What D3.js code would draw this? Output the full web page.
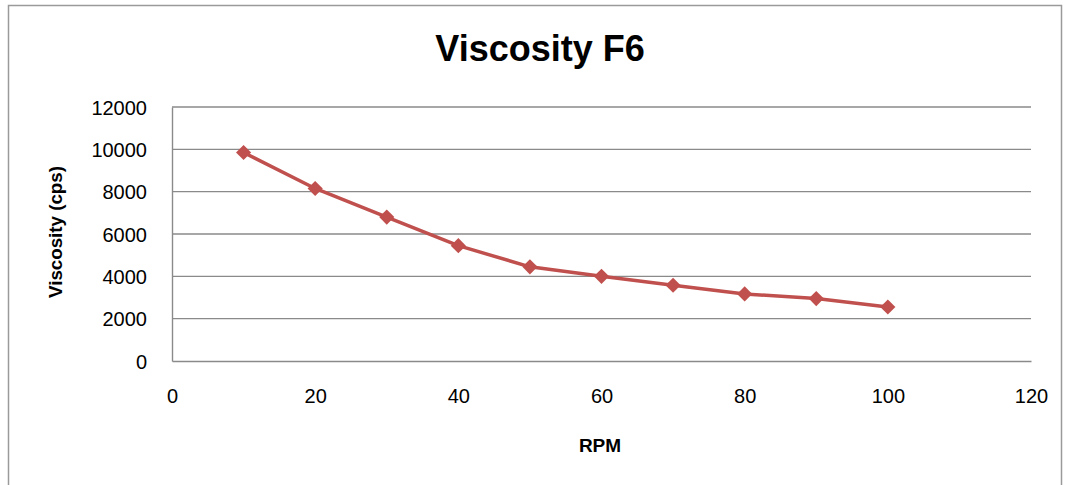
<!DOCTYPE html>
<html>
<head>
<meta charset="utf-8">
<script src="https://cdn.jsdelivr.net/npm/d3@7"></script>
<style>
  html, body { margin: 0; padding: 0; background: #fff; }
  svg { display: block; }
  text { font-family: "Liberation Sans", Arial, sans-serif; fill: #000; }
</style>
</head>
<body>
<svg id="chart" width="1068" height="485"></svg>
<script>
const title = "Viscosity F6";
const xLabel = "RPM";
const yLabel = "Viscosity (cps)";
const rpm = [10, 20, 30, 40, 50, 60, 70, 80, 90, 100];
const viscosity = [9850, 8150, 6800, 5450, 4450, 4000, 3580, 3170, 2950, 2550];
const xTicks = [0, 20, 40, 60, 80, 100, 120];
const yTicks = [0, 2000, 4000, 6000, 8000, 10000, 12000];

const svg = d3.select("#chart");
const plot = { left: 172, right: 1031, top: 107, bottom: 361 };

const x = d3.scaleLinear().domain([0, 120]).range([plot.left, plot.right]);
const y = d3.scaleLinear().domain([0, 12000]).range([plot.bottom, plot.top]);

// outer frame
svg.append("rect")
  .attr("x", 8.5).attr("y", 5.5).attr("width", 1053).attr("height", 500)
  .attr("fill", "none").attr("stroke", "#9a9a9a").attr("stroke-width", 1.5);

// title
svg.append("text")
  .attr("x", 540).attr("y", 61)
  .attr("text-anchor", "middle")
  .style("font-size", "36px").style("font-weight", "bold")
  .text(title);

// gridlines
svg.append("g").selectAll("line")
  .data(yTicks.filter(d => d > 0))
  .join("line")
  .attr("x1", plot.left).attr("x2", plot.right)
  .attr("y1", d => y(d)).attr("y2", d => y(d))
  .attr("stroke", "#8a8a8a").attr("stroke-width", 1.4);

// y axis
const yAxis = svg.append("g")
  .attr("transform", `translate(${plot.left},0)`)
  .call(d3.axisLeft(y).tickValues(yTicks).tickSize(0).tickPadding(25).tickFormat(d3.format("d")));
yAxis.select(".domain").attr("stroke", "#8a8a8a").attr("stroke-width", 1.4);
yAxis.selectAll("text").style("font-size", "20px").attr("dy", "0.36em")
  .style("font-family", "'Liberation Sans', Arial, sans-serif");

// x axis
const xAxis = svg.append("g")
  .attr("transform", `translate(0,${plot.bottom})`)
  .call(d3.axisBottom(x).tickValues(xTicks).tickSize(0).tickPadding(28).tickFormat(d3.format("d")));
xAxis.select(".domain").attr("stroke", "#8a8a8a").attr("stroke-width", 1.4);
xAxis.selectAll("text").style("font-size", "20px")
  .style("font-family", "'Liberation Sans', Arial, sans-serif");

// axis titles
svg.append("text")
  .attr("x", 600).attr("y", 452)
  .attr("text-anchor", "middle")
  .style("font-size", "19px").style("font-weight", "bold")
  .text(xLabel);

svg.append("text")
  .attr("transform", "translate(62,232) rotate(-90)")
  .attr("text-anchor", "middle")
  .attr("textLength", 132)
  .attr("lengthAdjust", "spacingAndGlyphs")
  .style("font-size", "19px").style("font-weight", "bold")
  .text(yLabel);

// series
const data = rpm.map((r, i) => ({ x: r, y: viscosity[i] }));
const color = "#C0504D";

svg.append("path")
  .datum(data)
  .attr("fill", "none")
  .attr("stroke", color)
  .attr("stroke-width", 3.5)
  .attr("stroke-linejoin", "round")
  .attr("d", d3.line().x(d => x(d.x)).y(d => y(d.y)));

const sym = d3.symbol().type(d3.symbolSquare).size(115);
svg.append("g").selectAll("path")
  .data(data)
  .join("path")
  .attr("d", sym)
  .attr("transform", d => `translate(${x(d.x)},${y(d.y)}) rotate(45)`)
  .attr("fill", color);
</script>
</body>
</html>
